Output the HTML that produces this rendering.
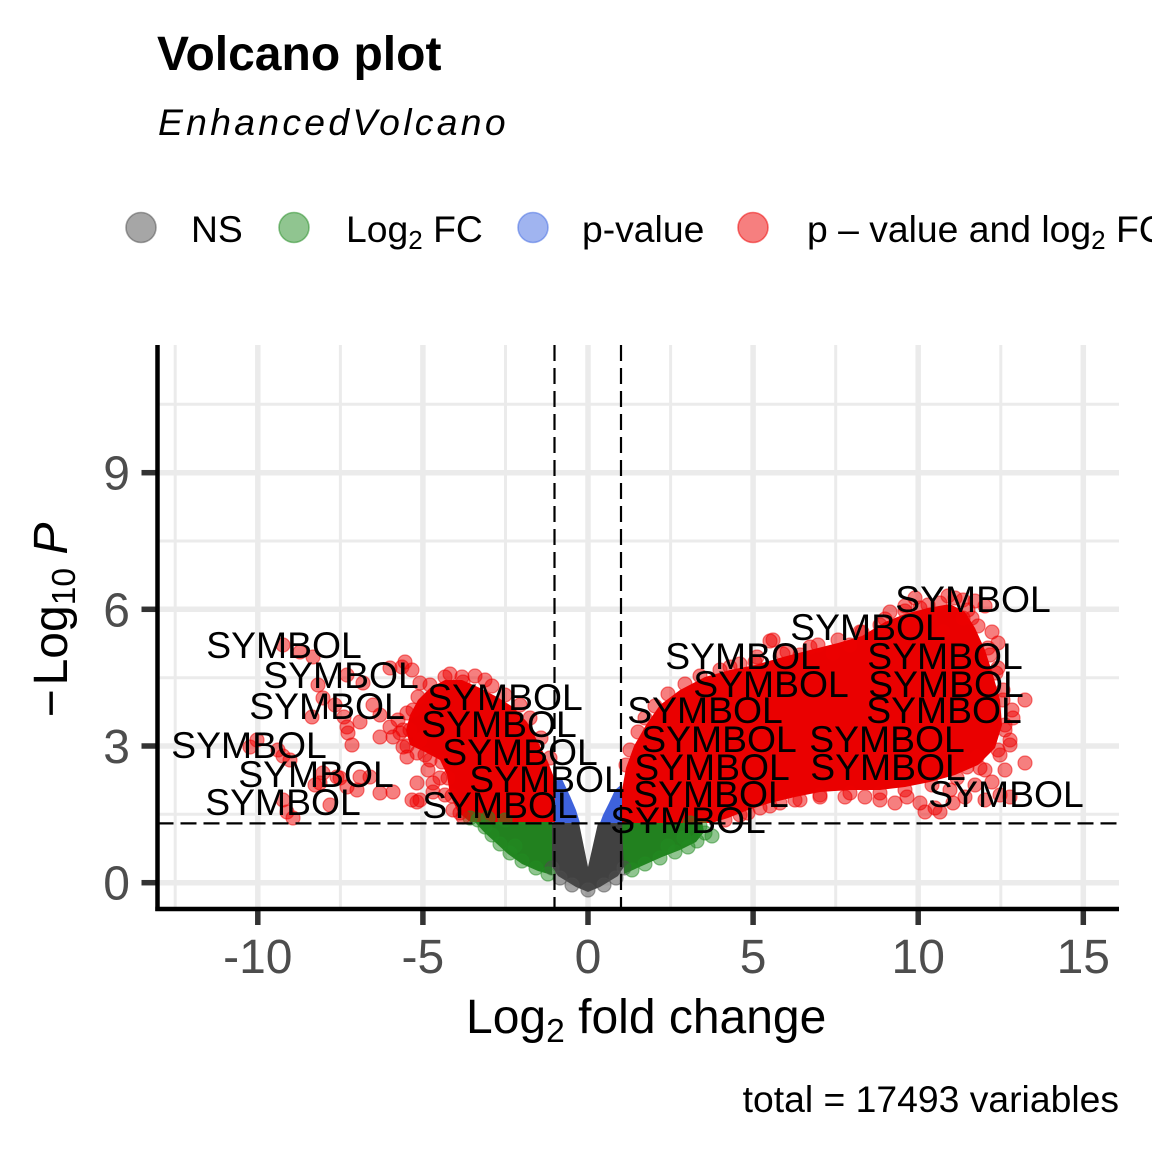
<!DOCTYPE html>
<html>
<head>
<meta charset="utf-8">
<style>
html,body{margin:0;padding:0;background:#fff;}
svg{display:block;}
text{font-family:"Liberation Sans",Arial,Helvetica,sans-serif;}
</style>
</head>
<body>
<svg width="1152" height="1152" viewBox="0 0 1152 1152" xmlns="http://www.w3.org/2000/svg">
<rect x="0" y="0" width="1152" height="1152" fill="#ffffff"/>

<!-- Title -->
<text x="157" y="70" font-size="48" font-weight="bold" fill="#000">Volcano plot</text>
<text x="158" y="135" font-size="37.3" font-style="italic" fill="#000" style="letter-spacing:3.3px">EnhancedVolcano</text>

<!-- Legend -->
<g stroke-width="1.6">
<circle cx="141" cy="227.5" r="15" fill="#4d4d4d" fill-opacity="0.5" stroke="#4d4d4d" stroke-opacity="0.5"/>
<circle cx="294" cy="227.5" r="15" fill="#228b22" fill-opacity="0.5" stroke="#228b22" stroke-opacity="0.5"/>
<circle cx="533" cy="227.5" r="15" fill="#4169e1" fill-opacity="0.5" stroke="#4169e1" stroke-opacity="0.5"/>
<circle cx="753" cy="227.5" r="15" fill="#ee0000" fill-opacity="0.5" stroke="#ee0000" stroke-opacity="0.5"/>
</g>
<g font-size="37.3" fill="#000">
<text x="191" y="242">NS</text>
<text x="346" y="242">Log<tspan font-size="26" dy="7">2</tspan><tspan dy="-7"> FC</tspan></text>
<text x="582" y="242">p-value</text>
<text x="807" y="242">p – value and log<tspan font-size="26" dy="7">2</tspan><tspan dy="-7"> FC</tspan></text>
</g>

<!-- Grid -->
<g stroke="#ebebeb" fill="none">
<g stroke-width="3">
<line x1="175.2" y1="345" x2="175.2" y2="909"/>
<line x1="340.4" y1="345" x2="340.4" y2="909"/>
<line x1="505.5" y1="345" x2="505.5" y2="909"/>
<line x1="670.6" y1="345" x2="670.6" y2="909"/>
<line x1="835.7" y1="345" x2="835.7" y2="909"/>
<line x1="1000.8" y1="345" x2="1000.8" y2="909"/>
<line x1="157.5" y1="814.3" x2="1119" y2="814.3"/>
<line x1="157.5" y1="677.7" x2="1119" y2="677.7"/>
<line x1="157.5" y1="541" x2="1119" y2="541"/>
<line x1="157.5" y1="404.3" x2="1119" y2="404.3"/>
</g>
<g stroke-width="5.5">
<line x1="257.8" y1="345" x2="257.8" y2="909"/>
<line x1="422.9" y1="345" x2="422.9" y2="909"/>
<line x1="588" y1="345" x2="588" y2="909"/>
<line x1="753.1" y1="345" x2="753.1" y2="909"/>
<line x1="918.2" y1="345" x2="918.2" y2="909"/>
<line x1="1083.3" y1="345" x2="1083.3" y2="909"/>
<line x1="157.5" y1="882.7" x2="1119" y2="882.7"/>
<line x1="157.5" y1="746" x2="1119" y2="746"/>
<line x1="157.5" y1="609.3" x2="1119" y2="609.3"/>
<line x1="157.5" y1="472.7" x2="1119" y2="472.7"/>
</g>
</g>

<!-- Dense cores -->
<path d="M550,823 L579,823 L588,867 L598,823 L625,823 L627,862 L618,876 L600,887 L588,892 L576,887 L558,876 L549,862 Z" fill="#414141"/>
<path d="M474,821 L552,821 L552,875 L538,871 L522,864 L508,854 L496,843 L484,832 Z" fill="#22811f"/>
<path d="M622,821 L702,821 L704,832 L696,842 L680,850 L662,857 L644,865 L624,874 Z" fill="#22811f"/>
<path d="M554,781 L562,779 L570,796 L576,810 L580,823 L554,823 Z" fill="#3e62dc"/>
<path d="M622,784 L615,790 L609,803 L603,815 L600,823 L622,823 Z" fill="#3e62dc"/>
<path d="M555,780 L548,762 L538,742 L527,722 L513,707 L497,697 L480,688 L462,680 L445,680 L430,688 L418,700 L410,715 L406,730 L410,745 L425,752 L440,760 L447,775 L450,795 L458,812 L470,822 L555,822 Z" fill="#ea0000"/>
<path d="M622,823 L622,790 L626,768 L634,746 L646,725 L660,705 L680,690 L705,677 L730,670 L755,665 L783,657 L810,650 L838,643 L862,636 L885,622 L905,614 L928,608 L950,604 L965,612 L975,628 L985,650 L993,675 L1000,700 L1002,725 L995,748 L978,765 L955,775 L930,782 L905,787 L880,790 L850,790 L820,792 L795,797 L770,803 L748,810 L728,818 L712,823 Z" fill="#ea0000"/>

<!-- scattered gray -->
<g fill="#4d4d4d" fill-opacity="0.5" stroke="#4d4d4d" stroke-opacity="0.5" stroke-width="1.2">
<circle cx="552" cy="868" r="7"/><circle cx="560" cy="878" r="7"/><circle cx="572" cy="885" r="7"/>
<circle cx="588" cy="890" r="7"/><circle cx="604" cy="885" r="7"/><circle cx="616" cy="878" r="7"/>
<circle cx="624" cy="868" r="7"/>
</g>

<!-- scattered green -->
<g fill="#228b22" fill-opacity="0.5" stroke="#228b22" stroke-opacity="0.5" stroke-width="1.2">
<circle cx="478" cy="820" r="7"/><circle cx="485" cy="827" r="7"/><circle cx="492" cy="835" r="7"/>
<circle cx="500" cy="844" r="7"/><circle cx="510" cy="853" r="7"/><circle cx="522" cy="861" r="7"/>
<circle cx="536" cy="868" r="7"/><circle cx="548" cy="874" r="7"/><circle cx="470" cy="818" r="7"/>
<circle cx="488" cy="818" r="7"/><circle cx="505" cy="820" r="7"/><circle cx="515" cy="846" r="7"/>
<circle cx="700" cy="826" r="7"/><circle cx="705" cy="833" r="7"/><circle cx="697" cy="841" r="7"/>
<circle cx="688" cy="847" r="7"/><circle cx="675" cy="852" r="7"/><circle cx="660" cy="858" r="7"/>
<circle cx="645" cy="864" r="7"/><circle cx="632" cy="870" r="7"/><circle cx="690" cy="823" r="7"/>
<circle cx="712" cy="836" r="7"/><circle cx="684" cy="838" r="7"/><circle cx="668" cy="846" r="7"/>
</g>

<!-- scattered red -->
<g fill="#ee0000" fill-opacity="0.5" stroke="#ee0000" stroke-opacity="0.5" stroke-width="1.2">
<circle cx="283" cy="645" r="7"/><circle cx="300" cy="652" r="7"/><circle cx="313" cy="657" r="7"/>
<circle cx="318" cy="685" r="7"/><circle cx="347" cy="675" r="7"/><circle cx="363" cy="683" r="7"/>
<circle cx="390" cy="668" r="7"/><circle cx="402" cy="667" r="7"/><circle cx="412" cy="670" r="7"/>
<circle cx="405" cy="662" r="7"/><circle cx="323" cy="698" r="7"/><circle cx="335" cy="705" r="7"/>
<circle cx="373" cy="705" r="7"/><circle cx="380" cy="715" r="7"/><circle cx="312" cy="717" r="7"/>
<circle cx="347" cy="727" r="7"/><circle cx="360" cy="722" r="7"/><circle cx="390" cy="727" r="7"/>
<circle cx="380" cy="737" r="7"/><circle cx="393" cy="737" r="7"/><circle cx="348" cy="733" r="7"/>
<circle cx="344" cy="717" r="7"/><circle cx="403" cy="747" r="7"/><circle cx="407" cy="757" r="7"/>
<circle cx="417" cy="753" r="7"/><circle cx="250" cy="747" r="7"/><circle cx="278" cy="750" r="7"/>
<circle cx="290" cy="760" r="7"/><circle cx="257" cy="740" r="7"/><circle cx="283" cy="756" r="7"/>
<circle cx="323" cy="773" r="7"/><circle cx="337" cy="777" r="7"/><circle cx="360" cy="777" r="7"/>
<circle cx="370" cy="777" r="7"/><circle cx="320" cy="783" r="7"/><circle cx="347" cy="787" r="7"/>
<circle cx="357" cy="790" r="7"/><circle cx="380" cy="793" r="7"/><circle cx="393" cy="792" r="7"/>
<circle cx="417" cy="783" r="7"/><circle cx="420" cy="800" r="7"/><circle cx="433" cy="783" r="7"/>
<circle cx="433" cy="792" r="7"/><circle cx="412" cy="800" r="7"/><circle cx="283" cy="800" r="7"/>
<circle cx="330" cy="805" r="7"/><circle cx="293" cy="818" r="7"/><circle cx="287" cy="812" r="7"/>
<circle cx="417" cy="802" r="7"/><circle cx="453" cy="810" r="7"/><circle cx="463" cy="817" r="7"/>
<circle cx="420" cy="683" r="7"/><circle cx="437" cy="697" r="7"/><circle cx="463" cy="682" r="7"/>
<circle cx="485" cy="680" r="7"/><circle cx="475" cy="676" r="7"/><circle cx="413" cy="710" r="7"/>
<circle cx="410" cy="730" r="7"/><circle cx="400" cy="733" r="7"/><circle cx="398" cy="720" r="7"/>
<circle cx="352" cy="745" r="7"/><circle cx="340" cy="778" r="7"/><circle cx="315" cy="785" r="7"/>
<circle cx="428" cy="770" r="7"/><circle cx="440" cy="778" r="7"/><circle cx="450" cy="674" r="7"/>
<circle cx="492" cy="686" r="7"/><circle cx="505" cy="695" r="7"/><circle cx="520" cy="705" r="7"/>
<circle cx="445" cy="795" r="7"/><circle cx="430" cy="760" r="7"/><circle cx="420" cy="740" r="7"/>
<circle cx="462" cy="677" r="7"/><circle cx="445" cy="677" r="7"/><circle cx="430" cy="685" r="7"/>
<circle cx="418" cy="697" r="7"/><circle cx="407" cy="713" r="7"/><circle cx="403" cy="730" r="7"/>
<circle cx="407" cy="746" r="7"/><circle cx="425" cy="755" r="7"/><circle cx="442" cy="762" r="7"/>
<circle cx="448" cy="778" r="7"/><circle cx="452" cy="796" r="7"/><circle cx="460" cy="813" r="7"/>
<circle cx="530" cy="718" r="7"/><circle cx="541" cy="738" r="7"/><circle cx="550" cy="758" r="7"/>
<circle cx="890" cy="612" r="7"/><circle cx="905" cy="606" r="7"/><circle cx="920" cy="608" r="7"/>
<circle cx="940" cy="603" r="7"/><circle cx="955" cy="598" r="7"/><circle cx="963" cy="600" r="7"/>
<circle cx="975" cy="601" r="7"/><circle cx="985" cy="606" r="7"/><circle cx="963" cy="618" r="7"/>
<circle cx="972" cy="618" r="7"/><circle cx="992" cy="632" r="7"/><circle cx="998" cy="643" r="7"/>
<circle cx="943" cy="632" r="7"/><circle cx="915" cy="598" r="7"/><circle cx="948" cy="596" r="7"/>
<circle cx="930" cy="615" r="7"/><circle cx="880" cy="625" r="7"/><circle cx="860" cy="632" r="7"/>
<circle cx="773" cy="640" r="7"/><circle cx="787" cy="652" r="7"/><circle cx="800" cy="655" r="7"/>
<circle cx="833" cy="653" r="7"/><circle cx="850" cy="645" r="7"/><circle cx="757" cy="657" r="7"/>
<circle cx="740" cy="664" r="7"/><circle cx="720" cy="670" r="7"/><circle cx="700" cy="676" r="7"/>
<circle cx="685" cy="684" r="7"/><circle cx="668" cy="694" r="7"/><circle cx="655" cy="706" r="7"/>
<circle cx="645" cy="718" r="7"/><circle cx="638" cy="732" r="7"/><circle cx="630" cy="750" r="7"/>
<circle cx="626" cy="765" r="7"/><circle cx="1025" cy="700" r="7"/><circle cx="1012" cy="710" r="7"/>
<circle cx="1013" cy="718" r="7"/><circle cx="1005" cy="730" r="7"/><circle cx="990" cy="723" r="7"/>
<circle cx="1010" cy="740" r="7"/><circle cx="1000" cy="755" r="7"/><circle cx="1025" cy="763" r="7"/>
<circle cx="977" cy="757" r="7"/><circle cx="967" cy="767" r="7"/><circle cx="985" cy="770" r="7"/>
<circle cx="1005" cy="770" r="7"/><circle cx="1010" cy="745" r="7"/><circle cx="1003" cy="690" r="7"/>
<circle cx="998" cy="668" r="7"/><circle cx="990" cy="655" r="7"/><circle cx="907" cy="797" r="7"/>
<circle cx="920" cy="803" r="7"/><circle cx="935" cy="808" r="7"/><circle cx="953" cy="803" r="7"/>
<circle cx="965" cy="797" r="7"/><circle cx="985" cy="800" r="7"/><circle cx="1000" cy="795" r="7"/>
<circle cx="1010" cy="797" r="7"/><circle cx="880" cy="800" r="7"/><circle cx="895" cy="803" r="7"/>
<circle cx="925" cy="812" r="7"/><circle cx="940" cy="812" r="7"/><circle cx="950" cy="790" r="7"/>
<circle cx="975" cy="785" r="7"/><circle cx="992" cy="782" r="7"/><circle cx="740" cy="815" r="7"/>
<circle cx="760" cy="808" r="7"/><circle cx="780" cy="803" r="7"/><circle cx="800" cy="800" r="7"/>
<circle cx="820" cy="797" r="7"/><circle cx="845" cy="797" r="7"/><circle cx="865" cy="797" r="7"/>
<circle cx="725" cy="820" r="7"/><circle cx="770" cy="641" r="7"/><circle cx="818" cy="645" r="7"/>
<circle cx="730" cy="667" r="7"/><circle cx="755" cy="662" r="7"/><circle cx="783" cy="654" r="7"/>
<circle cx="810" cy="647" r="7"/><circle cx="838" cy="640" r="7"/><circle cx="862" cy="632" r="7"/>
<circle cx="885" cy="619" r="7"/><circle cx="905" cy="611" r="7"/><circle cx="928" cy="605" r="7"/>
<circle cx="968" cy="610" r="7"/><circle cx="978" cy="626" r="7"/><circle cx="988" cy="648" r="7"/>
<circle cx="996" cy="673" r="7"/><circle cx="1003" cy="700" r="7"/><circle cx="1005" cy="725" r="7"/>
<circle cx="998" cy="750" r="7"/><circle cx="980" cy="768" r="7"/><circle cx="957" cy="778" r="7"/>
<circle cx="932" cy="785" r="7"/><circle cx="905" cy="790" r="7"/><circle cx="880" cy="793" r="7"/>
<circle cx="850" cy="793" r="7"/><circle cx="820" cy="795" r="7"/><circle cx="795" cy="800" r="7"/>
<circle cx="770" cy="806" r="7"/><circle cx="748" cy="813" r="7"/>
</g>

<!-- cutoff lines -->
<g stroke="#000" stroke-width="2.2" stroke-dasharray="16 7" fill="none">
<line x1="554.5" y1="345" x2="554.5" y2="909"/>
<line x1="621" y1="345" x2="621" y2="909"/>
<line x1="157.5" y1="823.4" x2="1119" y2="823.4"/>
</g>

<!-- point labels -->
<g font-size="37.3" fill="#000" text-anchor="middle">
<text x="973" y="612">SYMBOL</text>
<text x="868" y="640">SYMBOL</text>
<text x="743" y="669">SYMBOL</text>
<text x="945" y="669">SYMBOL</text>
<text x="771" y="697">SYMBOL</text>
<text x="946" y="697">SYMBOL</text>
<text x="705" y="723">SYMBOL</text>
<text x="944" y="723">SYMBOL</text>
<text x="719" y="752">SYMBOL</text>
<text x="887" y="752">SYMBOL</text>
<text x="712" y="780">SYMBOL</text>
<text x="888" y="780">SYMBOL</text>
<text x="711" y="807">SYMBOL</text>
<text x="1006" y="807">SYMBOL</text>
<text x="688" y="833">SYMBOL</text>
<text x="284" y="658">SYMBOL</text>
<text x="341" y="688">SYMBOL</text>
<text x="327" y="719">SYMBOL</text>
<text x="505" y="710">SYMBOL</text>
<text x="499" y="737">SYMBOL</text>
<text x="249" y="758">SYMBOL</text>
<text x="520" y="765">SYMBOL</text>
<text x="316" y="787">SYMBOL</text>
<text x="547" y="792">SYMBOL</text>
<text x="283" y="815">SYMBOL</text>
<text x="500" y="818">SYMBOL</text>
</g>

<!-- axes -->
<g stroke="#333333" stroke-width="5.5">
<line x1="141.5" y1="882.7" x2="157.5" y2="882.7"/>
<line x1="141.5" y1="746" x2="157.5" y2="746"/>
<line x1="141.5" y1="609.3" x2="157.5" y2="609.3"/>
<line x1="141.5" y1="472.7" x2="157.5" y2="472.7"/>
<line x1="257.8" y1="909" x2="257.8" y2="925"/>
<line x1="422.9" y1="909" x2="422.9" y2="925"/>
<line x1="588" y1="909" x2="588" y2="925"/>
<line x1="753.1" y1="909" x2="753.1" y2="925"/>
<line x1="918.2" y1="909" x2="918.2" y2="925"/>
<line x1="1083.3" y1="909" x2="1083.3" y2="925"/>
</g>
<g stroke="#000" stroke-width="4.5">
<line x1="157.5" y1="345" x2="157.5" y2="911"/>
<line x1="155.3" y1="909" x2="1119" y2="909"/>
</g>

<!-- tick labels -->
<g font-size="48" fill="#4d4d4d">
<g text-anchor="end">
<text x="130" y="899.7">0</text>
<text x="130" y="763">3</text>
<text x="130" y="626.3">6</text>
<text x="130" y="489.7">9</text>
</g>
<g text-anchor="middle">
<text x="257.8" y="973">-10</text>
<text x="422.9" y="973">-5</text>
<text x="588" y="973">0</text>
<text x="753.1" y="973">5</text>
<text x="918.2" y="973">10</text>
<text x="1083.3" y="973">15</text>
</g>
</g>

<!-- axis titles -->
<text x="466" y="1033" font-size="48" fill="#000">Log<tspan font-size="33.6" dy="9">2</tspan><tspan dy="-9"> fold change</tspan></text>
<text transform="translate(67,620) rotate(-90)" text-anchor="middle" font-size="48" fill="#000">−<tspan dx="4">Log</tspan><tspan font-size="33.6" dy="8">10</tspan><tspan dy="-8"> </tspan><tspan font-style="italic">P</tspan></text>

<!-- caption -->
<text x="1119" y="1112" font-size="37.3" fill="#000" text-anchor="end">total = 17493 variables</text>
</svg>
</body>
</html>
